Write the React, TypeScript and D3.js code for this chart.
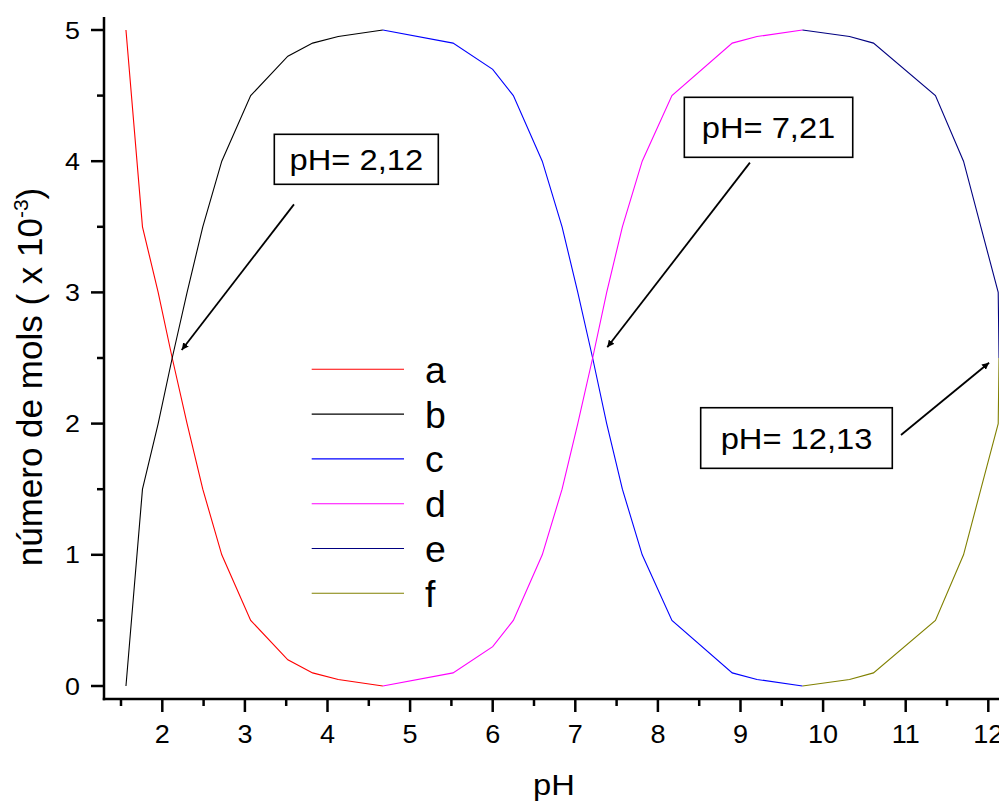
import React from "react";
import * as d3 from "d3";

// ---- data ----
const phAB = [1.56, 1.76, 1.95, 2.12, 2.3, 2.49, 2.72, 3.07, 3.52, 3.82, 4.13, 4.67];
const serA = [5, 3.5, 3, 2.5, 2, 1.5, 1, 0.5, 0.2, 0.1, 0.05, 0];
const serB = [0, 1.5, 2, 2.5, 3, 3.5, 4, 4.5, 4.8, 4.9, 4.95, 5];
const phCD = [4.67, 5.52, 6.0, 6.25, 6.6, 6.84, 7.03, 7.21, 7.38, 7.57, 7.81, 8.17, 8.9, 9.2, 9.75];
const serC = [5, 4.9, 4.7, 4.5, 4, 3.5, 3, 2.5, 2, 1.5, 1, 0.5, 0.1, 0.05, 0];
const serD = [0, 0.1, 0.3, 0.5, 1, 1.5, 2, 2.5, 3, 3.5, 4, 4.5, 4.9, 4.95, 5];
const phEF = [9.75, 10.32, 10.61, 11.36, 11.7, 11.91, 12.12, 12.13];
const serE = [5, 4.95, 4.9, 4.5, 4, 3.5, 3, 2.5];
const serF = [0, 0.05, 0.1, 0.5, 1, 1.5, 2, 2.5];

const seriesNames = ["a", "b", "c", "d", "e", "f"];
const seriesColors = ["#FF0000", "#000000", "#0000FF", "#FF00FF", "#000080", "#808000"];

const xMajorTicks = [2, 3, 4, 5, 6, 7, 8, 9, 10, 11, 12];
const xMinorTicks = [1.5, 2.5, 3.5, 4.5, 5.5, 6.5, 7.5, 8.5, 9.5, 10.5, 11.5, 12.5];
const yMajorTicks = [0, 1, 2, 3, 4, 5];
const yMinorTicks = [0.5, 1.5, 2.5, 3.5, 4.5];

const annotLabels = ["pH= 2,12", "pH= 7,21", "pH= 12,13"];
// box top-left (pH, value), arrow tail & tip (pH, value)
const annotBoxAt = [[3.356, 4.205], [8.32, 4.487], [8.518, 2.121]];
const annotTail = [[3.594, 3.671], [9.114, 3.989], [10.943, 1.913]];
const annotTip = [[2.235, 2.561], [7.387, 2.582], [12.009, 2.464]];

const W = 999;
const H = 803;
const FONT = "'Liberation Sans', Arial, Helvetica, sans-serif";
const SX = 1.09; // horizontal stretch of the reference's lettering

function T({ x, y, size, anchor, sx = SX, children }: any) {
  return (
    <text transform={`translate(${x},${y}) scale(${sx},1)`} fontSize={size} textAnchor={anchor || "start"}>
      {children}
    </text>
  );
}

export default function App() {
  const x = d3.scaleLinear().domain([2, 12]).range([162.3, 988.3]);
  const y = d3.scaleLinear().domain([0, 5]).range([686, 30]);
  const axisLeft = 104;
  const axisBottom = 699;
  const axisTop = 17;

  const groups = [
    { ph: phAB, v: serA },
    { ph: phAB, v: serB },
    { ph: phCD, v: serC },
    { ph: phCD, v: serD },
    { ph: phEF, v: serE },
    { ph: phEF, v: serF },
  ];
  const line = d3
    .line<[number, number]>()
    .x((d) => x(d[0]))
    .y((d) => y(d[1]));

  const boxSizes = [[164, 50], [168.4, 60], [191.6, 60.6]];

  return (
    <svg
      width={W}
      height={H}
      style={{ position: "absolute", left: 0, top: 0, background: "#fff" }}
      fontFamily={FONT}
    >
      <defs>
        <marker id="arr" viewBox="0 0 10 10" refX="10" refY="5" markerWidth="7" markerHeight="7" orient="auto" markerUnits="userSpaceOnUse">
          <path d="M0,0 L10,5 L0,10 z" fill="#000" />
        </marker>
      </defs>
      <rect x={0} y={0} width={W} height={H} fill="#fff" />

      {/* series */}
      {groups.map((g, i) => (
        <path
          key={i}
          d={line(g.ph.map((p, j) => [p, g.v[j]] as [number, number])) || ""}
          fill="none"
          stroke={seriesColors[i]}
          strokeWidth={1.1}
        />
      ))}

      {/* axes */}
      <line x1={axisLeft} x2={axisLeft} y1={axisTop} y2={axisBottom + 1.25} stroke="#000" strokeWidth={2.5} />
      <line x1={axisLeft - 1.25} x2={W} y1={axisBottom} y2={axisBottom} stroke="#000" strokeWidth={2.5} />
      {yMajorTicks.map((t) => (
        <g key={"ym" + t}>
          <line x1={axisLeft - 13} x2={axisLeft} y1={y(t)} y2={y(t)} stroke="#000" strokeWidth={2.5} />
          <T x={80} y={y(t) + 8.5} size={24} anchor="end" sx={1.12}>{t}</T>
        </g>
      ))}
      {yMinorTicks.map((t) => (
        <line key={"yn" + t} x1={axisLeft - 7} x2={axisLeft} y1={y(t)} y2={y(t)} stroke="#000" strokeWidth={2.5} />
      ))}
      {xMajorTicks.map((t) => (
        <g key={"xm" + t}>
          <line x1={x(t)} x2={x(t)} y1={axisBottom} y2={axisBottom + 13} stroke="#000" strokeWidth={2.5} />
          <T x={x(t)} y={742.7} size={26} anchor="middle" sx={1.04}>{t}</T>
        </g>
      ))}
      {xMinorTicks.map((t) => (
        <line key={"xn" + t} x1={x(t)} x2={x(t)} y1={axisBottom} y2={axisBottom + 7} stroke="#000" strokeWidth={2.5} />
      ))}

      {/* axis titles */}
      <T x={554} y={795} size={30} anchor="middle">pH</T>
      <text transform="translate(42,377) rotate(-90)" fontSize={35} textAnchor="middle">
        número de mols ( x 10<tspan fontSize={21} dy={-14}>-3</tspan><tspan dy={14}>)</tspan>
      </text>

      {/* legend */}
      {seriesNames.map((n, i) => (
        <g key={"lg" + n}>
          <line x1={311.7} x2={404} y1={369.3 + i * 44.8} y2={369.3 + i * 44.8} stroke={seriesColors[i]} strokeWidth={1.1} />
          <T x={425} y={382.7 + i * 44.8} size={36} sx={1.04}>{n}</T>
        </g>
      ))}

      {/* annotations */}
      {annotLabels.map((lab, i) => {
        const bx = x(annotBoxAt[i][0]);
        const by = y(annotBoxAt[i][1]);
        const [bw, bh] = boxSizes[i];
        return (
          <g key={"an" + i}>
            <rect x={bx} y={by} width={bw} height={bh} fill="#fff" stroke="#000" strokeWidth={1.6} />
            <T x={bx + bw / 2} y={by + bh / 2 + 10.7} size={30} anchor="middle">{lab}</T>
            <line
              x1={x(annotTail[i][0])}
              y1={y(annotTail[i][1])}
              x2={x(annotTip[i][0])}
              y2={y(annotTip[i][1])}
              stroke="#000"
              strokeWidth={1.8}
              markerEnd="url(#arr)"
            />
          </g>
        );
      })}
    </svg>
  );
}
